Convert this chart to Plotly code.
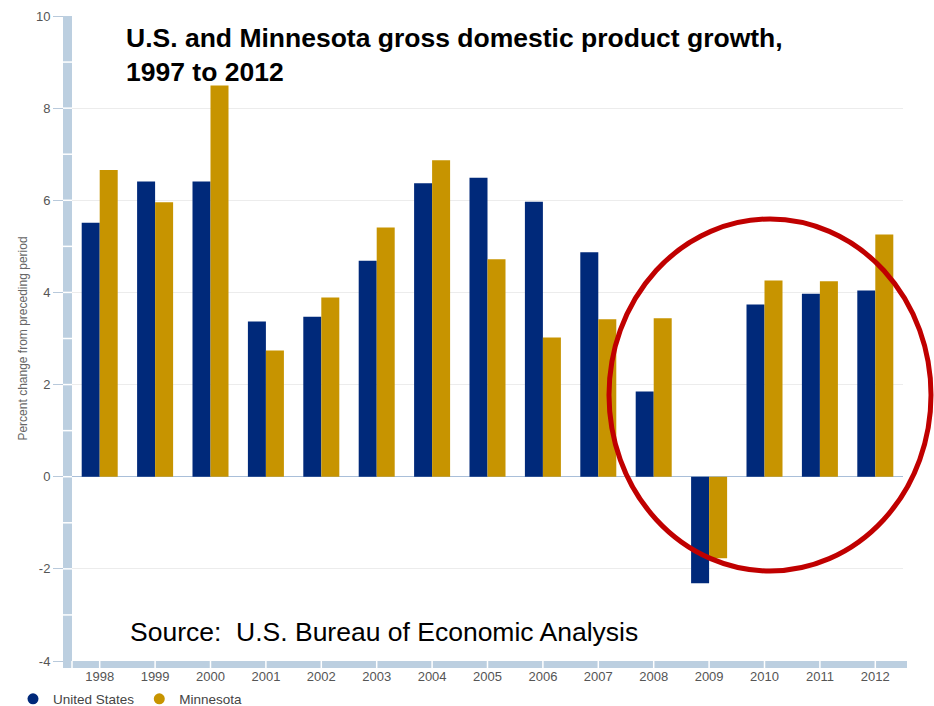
import plotly.graph_objects as go

years = ["1998", "1999", "2000", "2001", "2002", "2003", "2004", "2005",
         "2006", "2007", "2008", "2009", "2010", "2011", "2012"]
us_growth = [5.51, 6.41, 6.41, 3.37, 3.47, 4.69, 6.37, 6.49,
             5.97, 4.87, 1.85, -2.31, 3.74, 3.97, 4.04]
mn_growth = [6.66, 5.96, 8.49, 2.74, 3.89, 5.41, 6.87, 4.72,
             3.02, 3.42, 3.44, -1.77, 4.26, 4.24, 5.26]
series_names = ["United States", "Minnesota"]
y_ticks = [-4, -2, 0, 2, 4, 6, 8, 10]
y_tick_labels = ["-4", "-2", "0", "2", "4", "6", "8", "10"]

US_COLOR = "#00297a"
MN_COLOR = "#c79400"
BAND = "#bccfe0"
FONT = "Liberation Sans, Arial, sans-serif"

W, H = 934, 706
ML, MR, MT, MB = 72, 31, 16, 45
PW, PH = W - ML - MR, H - MT - MB
YMIN, YMAX = -4, 10

fig = go.Figure()
fig.add_trace(go.Bar(x=years, y=us_growth, name=series_names[0],
                     marker=dict(color=US_COLOR, line=dict(width=0)), showlegend=False))
fig.add_trace(go.Bar(x=years, y=mn_growth, name=series_names[1],
                     marker=dict(color=MN_COLOR, line=dict(width=0)), showlegend=False))
# legend entries with circle symbols
for nm, col in zip(series_names, [US_COLOR, MN_COLOR]):
    fig.add_trace(go.Scatter(x=[None], y=[None], mode="markers", name=nm,
                             marker=dict(symbol="circle", size=11, color=col)))

shapes = []
# left axis band
shapes.append(dict(type="rect", xref="paper", yref="paper",
                   x0=-9 / PW, x1=0, y0=-7 / PH, y1=1,
                   fillcolor=BAND, line=dict(width=0), layer="above"))
# bottom axis band
shapes.append(dict(type="rect", xref="paper", yref="paper",
                   x0=-9 / PW, x1=1 + 4 / PW, y0=-7 / PH, y1=0,
                   fillcolor=BAND, line=dict(width=0), layer="above"))
# white notches on left band
for v in range(YMIN + 1, YMAX):
    yp = (v - YMIN) / (YMAX - YMIN)
    shapes.append(dict(type="line", xref="paper", yref="paper",
                       x0=-9 / PW, x1=0, y0=yp, y1=yp,
                       line=dict(color="white", width=1.5), layer="above"))
# white separators on bottom band at category centres
n = len(years)
for i in range(n):
    xp = (i + 0.5) / n
    shapes.append(dict(type="line", xref="paper", yref="paper",
                       x0=xp, x1=xp, y0=-7 / PH, y1=0,
                       line=dict(color="white", width=1.5), layer="above"))
shapes.append(dict(type="line", xref="paper", yref="paper",
                   x0=0, x1=0, y0=-7 / PH, y1=0,
                   line=dict(color="white", width=1.5), layer="above"))
# red ellipse highlight
shapes.append(dict(type="circle", xref="paper", yref="paper",
                   x0=(609 - ML) / PW, x1=(931 - ML) / PW,
                   y0=(H - MB - 571) / PH, y1=(H - MB - 219) / PH,
                   line=dict(color="#c00000", width=5), layer="above"))

annotations = [
    dict(text="<b>U.S. and Minnesota gross domestic product growth,<br>1997 to 2012</b>",
         xref="paper", yref="paper", x=(124 - ML) / PW, y=(H - MB - 21) / PH,
         xanchor="left", yanchor="top", align="left", showarrow=False,
         font=dict(family=FONT, size=26.5, color="black")),
    dict(text="Source:\u00a0 U.S. Bureau of Economic Analysis",
         xref="paper", yref="paper", x=(128 - ML) / PW, y=(H - MB - 632) / PH,
         xanchor="left", yanchor="middle", showarrow=False,
         font=dict(family=FONT, size=26.5, color="black")),
]

fig.update_layout(
    width=W, height=H,
    margin=dict(l=ML, r=MR, t=MT, b=MB, pad=0, autoexpand=False),
    paper_bgcolor="white", plot_bgcolor="white",
    barmode="group", bargap=0.35, bargroupgap=0,
    font=dict(family=FONT, color="#555555"),
    shapes=shapes, annotations=annotations,
    legend=dict(orientation="h", x=(13 - ML) / PW, y=(H - MB - 699) / PH,
                xanchor="left", yanchor="middle",
                font=dict(family=FONT, size=13.5, color="#444444"),
                itemclick=False, bgcolor="rgba(0,0,0,0)"),
    showlegend=True,
)
fig.update_xaxes(type="category", showgrid=False, ticks="", showline=False,
                 tickfont=dict(family=FONT, size=13, color="#555555"),
                 ticklabelstandoff=6, zeroline=False, automargin=False)
fig.update_yaxes(range=[YMIN, YMAX], tickvals=y_ticks, ticktext=y_tick_labels,
                 showgrid=True, gridcolor="#ececec", gridwidth=1,
                 zeroline=True, zerolinecolor="#a9bfd9", zerolinewidth=1,
                 ticks="outside", ticklen=18, tickcolor="#b8c9db", tickwidth=1,
                 showline=False, automargin=False,
                 tickfont=dict(family=FONT, size=13, color="#555555"),
                 title=dict(text="Percent change from preceding period",
                            font=dict(family=FONT, size=12, color="#666666"),
                            standoff=5))

fig.write_html("out.html", config={"displayModeBar": False},
               post_script="document.body.style.margin='0';document.body.style.overflow='hidden';")
